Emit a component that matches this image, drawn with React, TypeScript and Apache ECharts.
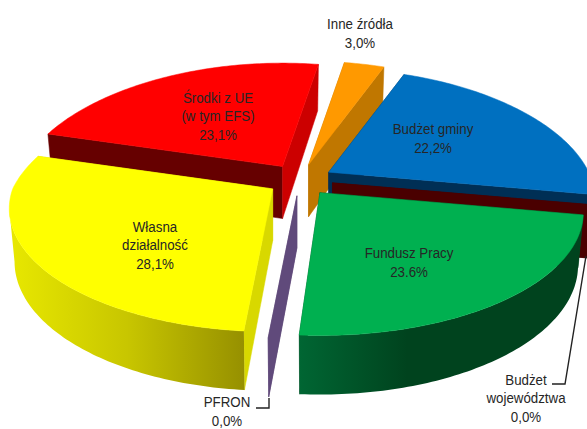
import React, { useEffect, useRef } from "react";
import * as echarts from "echarts";

// Pie order, clockwise on screen, rear slices first so painting order is correct
const categories = ["Środki z UE", "Inne źródła", "Budżet gminy", "Budżet województwa", "Fundusz Pracy", "PFRON", "Własna działalność"];
const values = [23.1, 3.0, 22.2, 0.0, 23.6, 0.0, 28.1];
const topColors = ["#FF0000", "#FF9900", "#0070C0", "#4A0000", "#00B050", "#604A7B", "#FFFF00"];
const startWallColors = ["#660000", "#C07700", "#002F55", "#4A0000", "#004A22", "#604A7B", "#D8D800"];
const endWallColors = ["#CC0000", "#C07700", "#002F55", "#4A0000", "#004A22", "#604A7B", "#D8D800"];
const arcWallStops: string[][] = [
  ["#660000", "#660000"],
  ["#C07700", "#C07700"],
  ["#002F55", "#002F55"],
  ["#4A0000", "#4A0000"],
  ["#00431E", "#00431E", "#006633"],
  ["#604A7B", "#604A7B"],
  ["#E8E800", "#C8C600", "#969000"],
];
// small drawing tolerance at the slice ends, in degrees
const endTrimDeg = [0, 0, 0, 0, 1.5, 0, 0];
const labelTexts = [
  "Środki z UE\n(w tym EFS)\n23,1%",
  "Inne źródła\n3,0%",
  "Budżet gminy\n22,2%",
  "Budżet\nwojewództwa\n0,0%",
  "Fundusz Pracy\n23.6%",
  "PFRON\n0,0%",
  "Własna\ndziałalność\n28,1%",
];
const labelAnchors = [
  [218, 116],
  [360, 33],
  [433, 138],
  [526, 398],
  [409, 262],
  [227, 411],
  [155, 245],
];
const leaderLines = [
  [[269, 398], [269, 408], [256, 408]],
  [[586, 256], [565, 384], [552, 384]],
];

const CX = 300;
const CY = 180;
const RX = 260;
const RY = 120;
const PERSP = 0.16;
const PERSP_X_REAR = 0.22;
const DEPTH = 52;
const DEPTH_PERSP = 0.12;
const BOTTOM_SCALE = 0.98;
const EXPLODE = 33;
const EXPLODE_Y = 0.48;
const START_DEG = 196.5;

const rad = (d: number) => (d * Math.PI) / 180;

function rim(t: number, ox: number, oy: number, down: boolean) {
  const c = Math.cos(rad(t));
  const s = Math.sin(rad(t));
  const w = 1 - PERSP * s;
  const wx = 1 - (s < 0 ? PERSP_X_REAR : PERSP) * s;
  const sx = down ? BOTTOM_SCALE : 1;
  return [ox + (sx * RX * c) / wx, oy + (RY * s) / w + (down ? DEPTH / (1 - DEPTH_PERSP * s) : 0)];
}

function arcPoints(a: number, b: number, ox: number, oy: number, down: boolean, frontOnly = false) {
  const pts: number[][] = [];
  const n = Math.max(1, Math.ceil(Math.abs(b - a)));
  for (let i = 0; i <= n; i++) {
    const t = a + ((b - a) * i) / n;
    // the rim's silhouette sits where sin(t) equals the perspective factor
    if (frontOnly && Math.sin(rad(t)) < PERSP) continue;
    pts.push(rim(t, ox, oy, down));
  }
  return pts;
}

function renderSlice(params: any, api: any) {
  const i = params.dataIndex;
  const v = api.value(0) as number;
  let before = 0;
  for (let k = 0; k < i; k++) before += values[k];
  const a0 = START_DEG + before * 3.6;
  const b0 = a0 + v * 3.6;
  const mid = (a0 + b0) / 2;
  const a = a0;
  const b = b0 - endTrimDeg[i];
  const ox = CX + EXPLODE * Math.cos(rad(mid));
  const oy = CY + EXPLODE * EXPLODE_Y * Math.sin(rad(mid));
  const apexTop = [ox, oy];
  const apexBottom = [ox, oy + DEPTH];

  const wall = (t: number, fill: string) => ({
    type: "polygon",
    shape: { points: [apexTop, rim(t, ox, oy, false), rim(t, ox, oy, true), apexBottom] },
    style: { fill, stroke: fill, lineWidth: 0.5 },
  });

  const children: any[] = [];
  children.push(wall(a, startWallColors[i]));
  children.push(wall(b, endWallColors[i]));
  if (v > 0) {
    const stops = arcWallStops[i];
    const reversed = i === 4;
    const fill = new echarts.graphic.LinearGradient(
      reversed ? 1 : 0,
      0,
      reversed ? 0 : 1,
      0,
      stops.map((color, k) => ({ offset: reversed && k === 1 ? 0.62 : k / (stops.length - 1), color }))
    );
    const top = arcPoints(a, b, ox, oy, false, true);
    const bottom = arcPoints(a, b, ox, oy, true, true).reverse();
    if (top.length > 1) {
      children.push({
        type: "polygon",
        shape: { points: top.concat(bottom) },
        style: { fill },
      });
    }
    children.push({
      type: "polygon",
      shape: { points: [apexTop].concat(arcPoints(a, b, ox, oy, false)) },
      style: { fill: topColors[i], stroke: topColors[i], lineWidth: 0.5 },
    });
  }
  return { type: "group", children };
}

export default function App() {
  const ref = useRef<HTMLDivElement>(null);
  useEffect(() => {
    const chart = echarts.init(ref.current!, undefined, { renderer: "svg" });
    chart.setOption({
      animation: false,
      backgroundColor: "#FFFFFF",
      series: [
        {
          type: "custom",
          coordinateSystem: "none",
          renderItem: renderSlice,
          silent: true,
          data: categories.map((name, i) => ({ name, value: [values[i]] })),
        },
      ],
      graphic: {
        elements: [
          ...leaderLines.map((points) => ({
            type: "polyline",
            z: 20,
            shape: { points },
            style: { fill: "none", stroke: "#222222", lineWidth: 1.4 },
          })),
          ...labelTexts.map((text, i) => ({
            type: "text",
            z: 30,
            x: labelAnchors[i][0],
            y: labelAnchors[i][1],
            scaleX: 0.9,
            style: {
              text,
              fill: "#262626",
              font: '14.8px "Liberation Sans", Arial, sans-serif',
              lineHeight: 18.5,
              align: "center",
              verticalAlign: "middle",
            },
          })),
        ],
      },
    });
    return () => chart.dispose();
  }, []);
  return <div ref={ref} style={{ position: "absolute", left: 0, top: 0, width: 587, height: 429 }} />;
}
